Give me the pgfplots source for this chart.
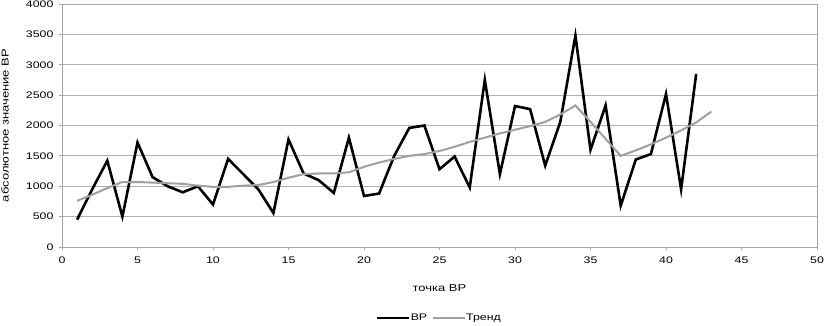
\documentclass[border=0pt]{standalone}
\usepackage{pgfplots}
\pgfplotsset{compat=1.18}
\usepackage{fontspec}
\setmainfont{Liberation Sans}[FakeStretch=1.3]
\begin{document}
\begin{tikzpicture}
\begin{axis}[
  scale only axis,
  width=755pt, height=243pt,
  xmin=0, xmax=50, ymin=0, ymax=4000,
  xtick={0,5,...,50}, ytick={0,500,...,4000},
  /pgf/number format/assume math mode=true,
  scaled y ticks=false,
  /pgf/number format/1000 sep={},
  ticklabel style={font=\fontsize{9.5}{10}\selectfont},
  yticklabel style={xshift=-2pt},
  xticklabel style={yshift=-3pt},
  ymajorgrids, grid style={gray!60, line width=0.8pt},
  axis line style={gray!70, line width=0.8pt},
  tick style={gray!70, line width=0.8pt},
  tick align=outside, major tick length=3pt,
  xtick pos=bottom, ytick pos=left,
  xlabel={точка ВР}, ylabel={абсолютное значение ВР},
  label style={font=\fontsize{10}{11}\selectfont},
  xlabel style={at={([yshift=-41pt]axis description cs:0.5,0)}, anchor=center},
  ylabel style={at={([xshift=-57pt]axis description cs:0,0.5)}, anchor=center},
  legend style={at={([yshift=-71pt]axis description cs:0.5,0)}, anchor=center, draw=none, legend columns=2,
    font=\fontsize{9.5}{10}\selectfont, inner sep=0pt,
    /tikz/every even column/.append style={column sep=3pt},
    /tikz/every odd column/.append style={column sep=-2pt}},
  legend image code/.code={\draw[#1] (0pt,0pt) -- (32pt,0pt);},
]
\addplot[black, line width=2.6pt, line join=miter] coordinates {
(1,450)(2,950)(3,1420)(4,500)(5,1720)(6,1150)(7,1000)(8,900)(9,1000)(10,700)
(11,1450)(12,1200)(13,950)(14,560)(15,1770)(16,1210)(17,1100)(18,890)(19,1800)(20,840)
(21,880)(22,1500)(23,1960)(24,2000)(25,1280)(26,1490)(27,980)(28,2750)(29,1200)(30,2320)
(31,2270)(32,1340)(33,2060)(34,3480)(35,1600)(36,2330)(37,680)(38,1440)(39,1530)(40,2520)
(41,950)(42,2850)};
\addlegendentry{ВР}
\addplot[gray!75, line width=2pt] coordinates {
(1,760)(2,860)(3,970)(4,1070)(5,1070)(6,1060)(7,1050)(8,1040)(9,1010)(10,990)
(11,990)(12,1010)(13,1020)(14,1070)(15,1140)(16,1200)(17,1210)(18,1210)(19,1230)(20,1320)
(21,1390)(22,1450)(23,1500)(24,1530)(25,1580)(26,1650)(27,1730)(28,1800)(29,1870)(30,1930)
(31,1990)(32,2060)(33,2180)(34,2330)(35,2060)(36,1780)(37,1500)(38,1590)(39,1690)(40,1800)
(41,1920)(42,2050)(43,2230)};
\addlegendentry{Тренд}
\end{axis}
\pgfresetboundingbox
\useasboundingbox (-62pt,-78pt) rectangle (764pt,247pt);
\end{tikzpicture}
\end{document}
